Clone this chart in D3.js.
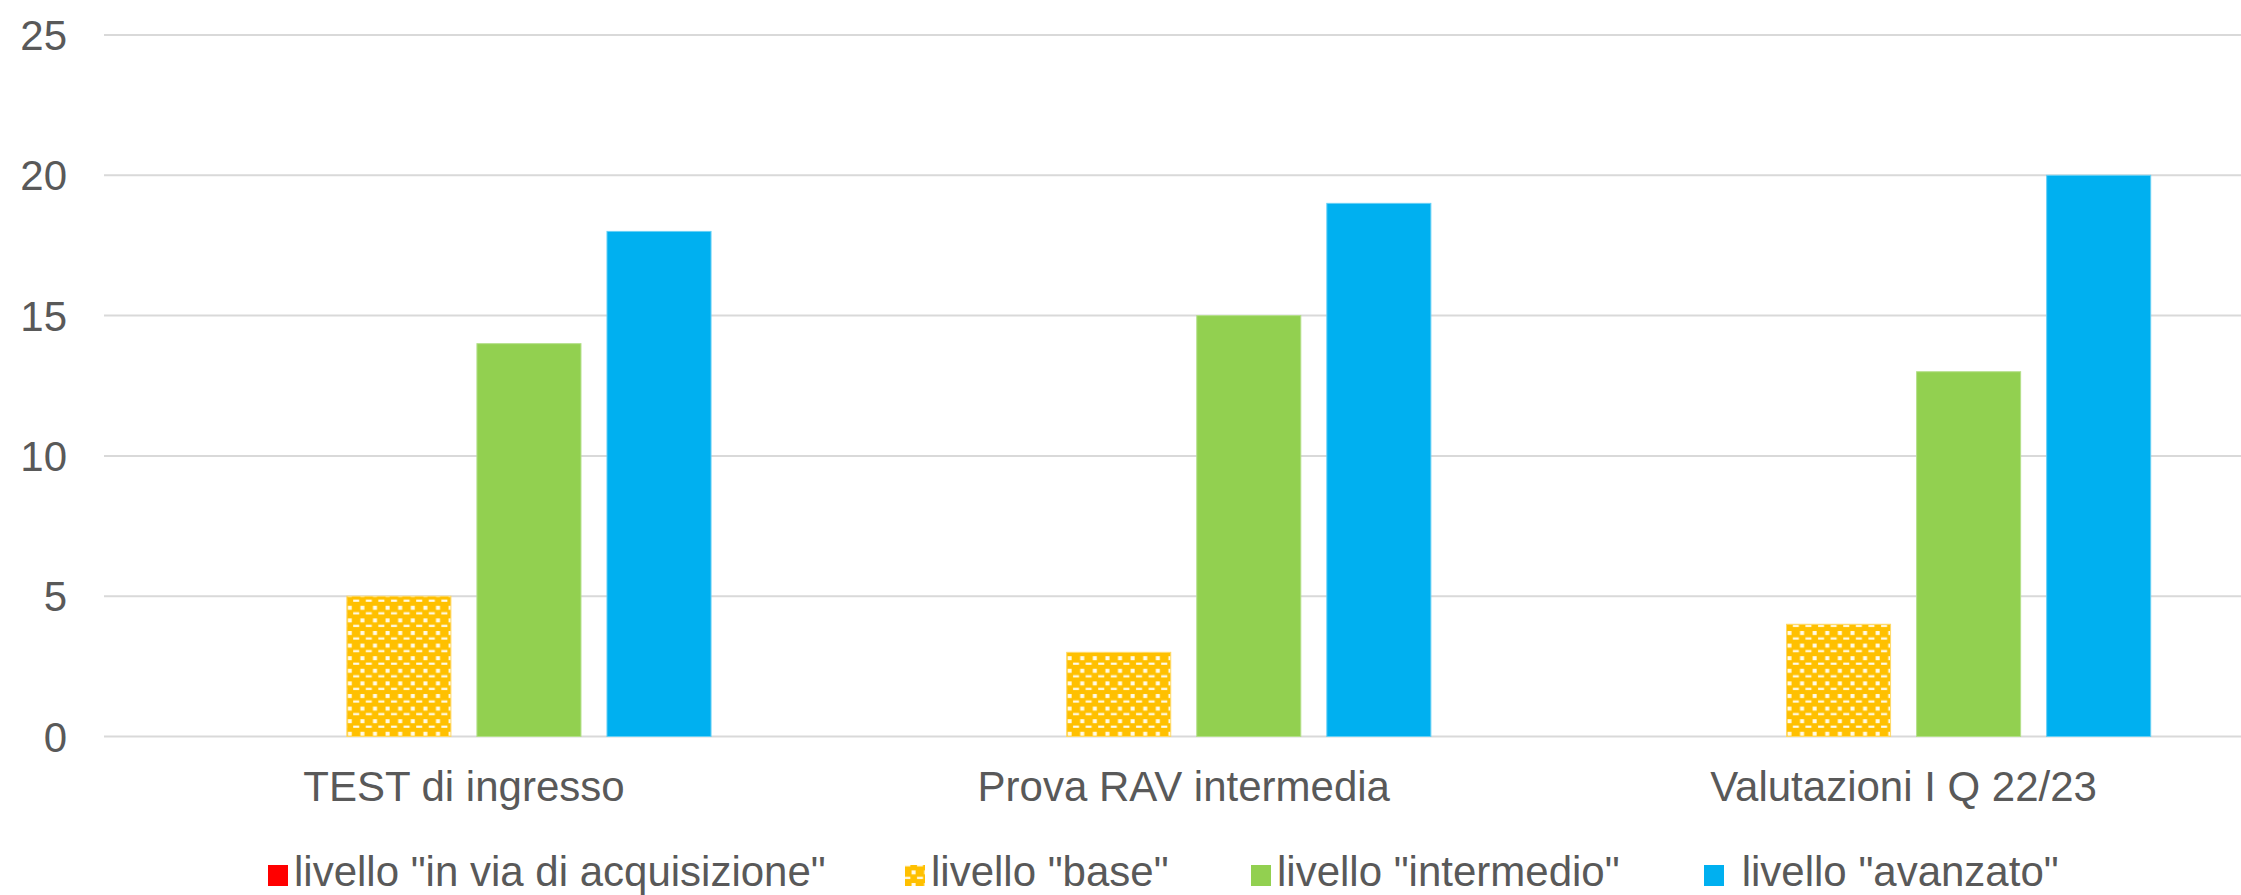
<!DOCTYPE html>
<html>
<head>
<meta charset="utf-8">
<script src="https://cdn.jsdelivr.net/npm/d3@7"></script>
<style>
  html, body { margin: 0; padding: 0; background: #fff; }
  svg { display: block; }
  text { font-family: "Liberation Sans", Arial, sans-serif; fill: #595959; }
</style>
</head>
<body>
<svg id="chart" width="2241" height="895"></svg>
<script>
// ---- data ----
const categories = ["TEST di ingresso", "Prova RAV intermedia", "Valutazioni I Q 22/23"];
const seriesNames = ['livello "in via di acquisizione"', 'livello "base"', 'livello "intermedio"', ' livello "avanzato"'];
const inViaDiAcquisizione = [0, 0, 0];
const base = [5, 3, 4];
const intermedio = [14, 15, 13];
const avanzato = [18, 19, 20];
const yTicks = [0, 5, 10, 15, 20, 25];

const seriesValues = [inViaDiAcquisizione, base, intermedio, avanzato];
const seriesFill = ["#FF0000", "url(#basePattern)", "#92D050", "#00B0F0"];
const seriesStroke = ["#FF6666", "#FFD966", "#B4E08A", "#66D0F6"];

// ---- layout ----
const svg = d3.select("#chart");
const plotLeft = 104, plotRight = 2263.5, plotTop = 35, plotBottom = 736.5;

const y = d3.scaleLinear().domain([0, 25]).range([plotBottom, plotTop]);
const x0 = d3.scaleBand().domain(categories).range([plotLeft, plotRight]).padding(0);
const groupGap = x0.bandwidth() * 0.1567;
const x1 = d3.scaleBand().domain(d3.range(seriesNames.length))
  .range([groupGap, x0.bandwidth() - groupGap]).paddingInner(0.2).paddingOuter(0);

// pattern
const defs = svg.append("defs");
const pat = defs.append("pattern").attr("id", "basePattern")
  .attr("patternUnits", "userSpaceOnUse").attr("width", 12.6).attr("height", 12.6);
pat.append("rect").attr("width", 12.6).attr("height", 12.6).attr("fill", "#FFC000");
pat.append("rect").attr("x", 4.4).attr("y", 1.0).attr("width", 4).attr("height", 4).attr("fill", "#FFFBEA");
pat.append("rect").attr("x", 9.8).attr("y", 7.4).attr("width", 6).attr("height", 2.2).attr("fill", "#FFFBEA");
pat.append("rect").attr("x", -2.8).attr("y", 7.4).attr("width", 6).attr("height", 2.2).attr("fill", "#FFFBEA");

// gridlines
svg.append("g").selectAll("line").data(yTicks).join("line")
  .attr("x1", plotLeft).attr("x2", plotRight)
  .attr("y1", d => y(d)).attr("y2", d => y(d))
  .attr("stroke", "#D9D9D9").attr("stroke-width", 2);

// y labels
svg.append("g").selectAll("text").data(yTicks).join("text")
  .attr("x", 67).attr("y", d => y(d)).attr("dy", "0.36em")
  .attr("text-anchor", "end").style("font-size", "42px")
  .text(d => d);

// bars
const groups = svg.append("g").selectAll("g").data(categories).join("g")
  .attr("transform", d => `translate(${x0(d)},0)`);
groups.selectAll("rect").data((c, ci) => seriesValues.map((vals, si) => ({ si, v: vals[ci] })))
  .join("rect")
  .filter(d => d.v > 0)
  .attr("x", d => x1(d.si))
  .attr("width", x1.bandwidth())
  .attr("y", d => y(d.v))
  .attr("height", d => y(0) - y(d.v))
  .attr("fill", d => seriesFill[d.si])
  .attr("stroke", d => seriesStroke[d.si])
  .attr("stroke-width", 1);

// category labels
svg.append("g").selectAll("text").data(categories).join("text")
  .attr("x", d => x0(d) + x0.bandwidth() / 2)
  .attr("y", 801)
  .attr("text-anchor", "middle").style("font-size", "42px")
  .text(d => d);

// legend
const legend = svg.append("g");
const legendX = [268, 905, 1251, 1704];
seriesNames.forEach((name, i) => {
  legend.append("rect").attr("x", legendX[i]).attr("y", 865).attr("width", 20).attr("height", 21)
    .attr("fill", seriesFill[i]);
  legend.append("text").attr("x", legendX[i] + 26).attr("y", 886)
    .style("font-size", "42px").style("white-space", "pre").attr("xml:space", "preserve")
    .text(name);
});
</script>
</body>
</html>
